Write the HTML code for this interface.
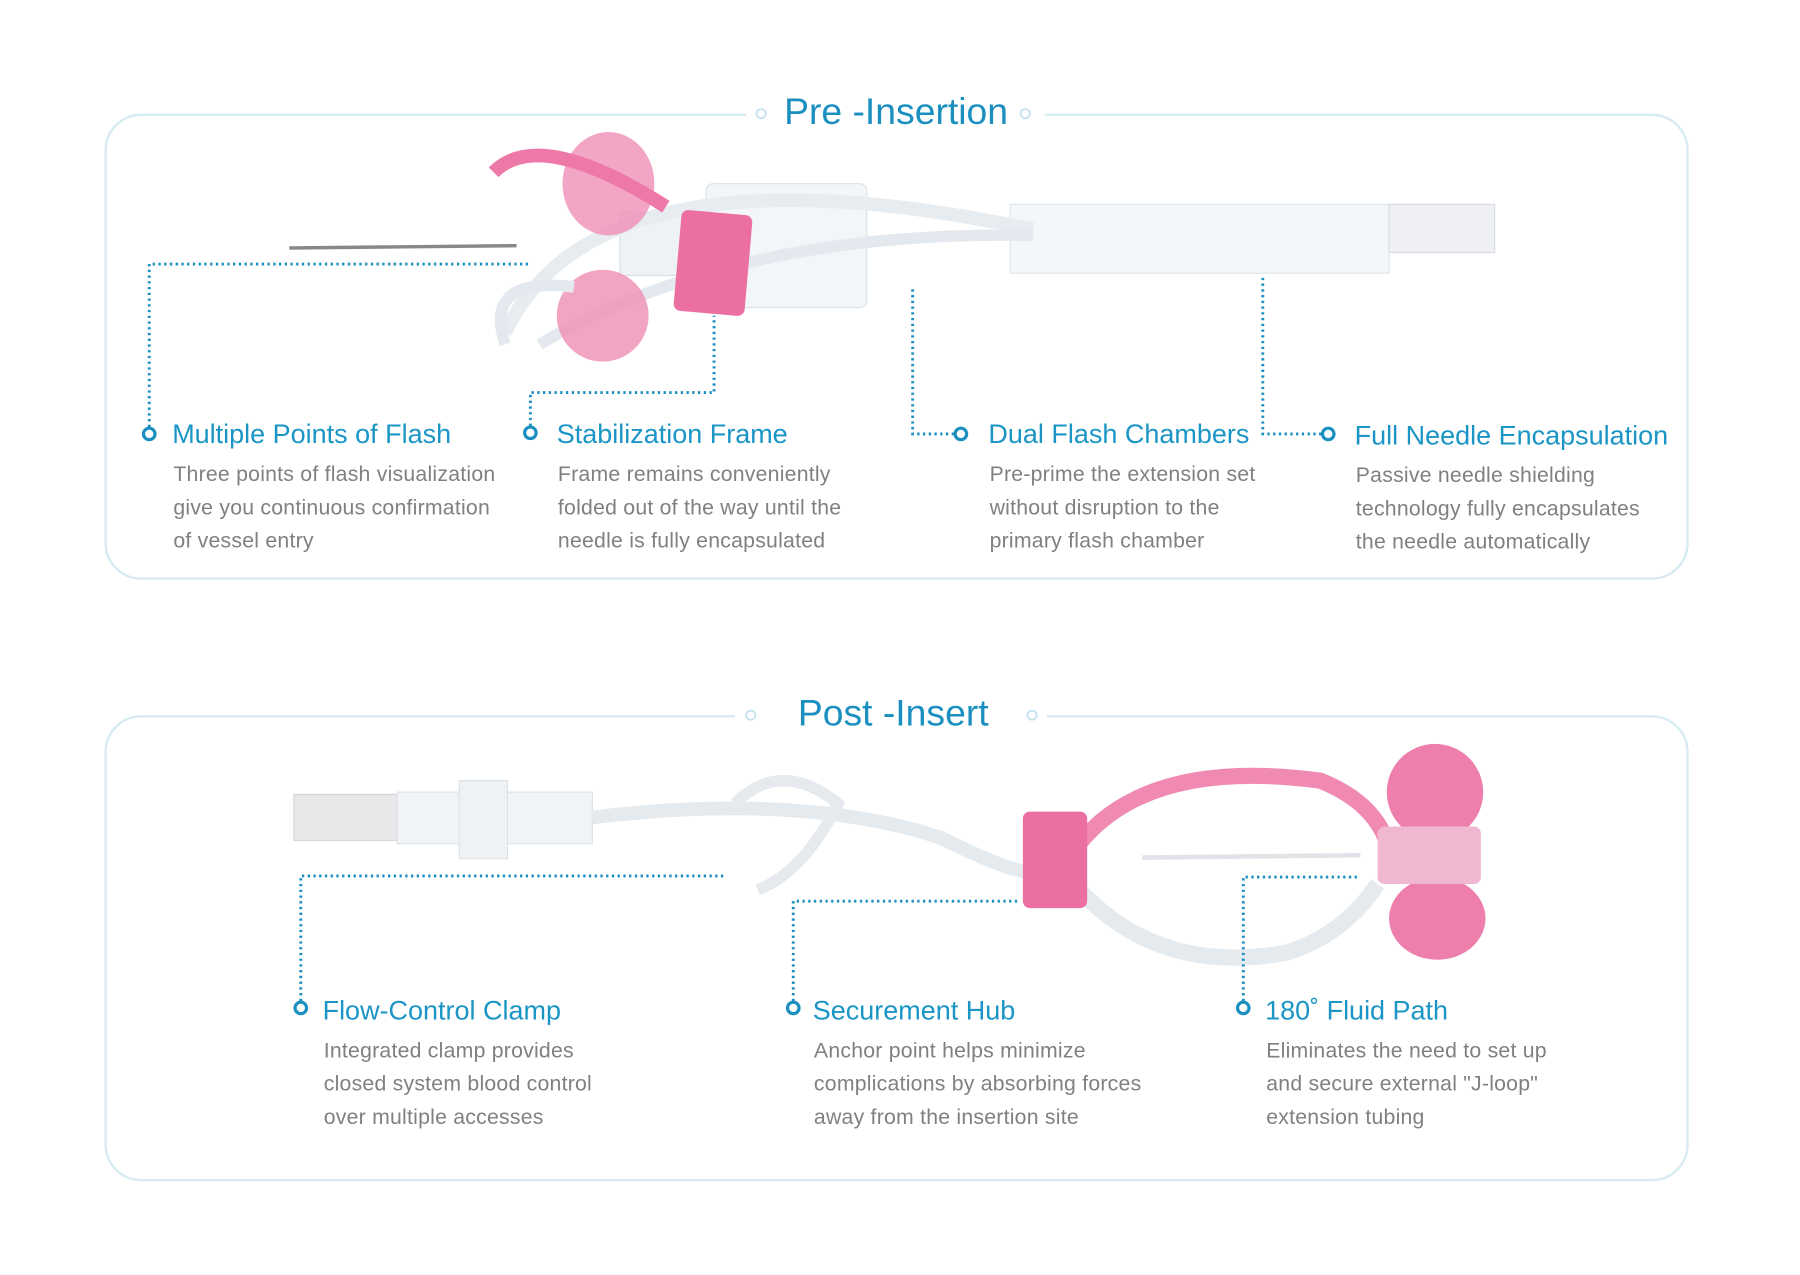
<!DOCTYPE html>
<html><head><meta charset="utf-8"><style>
html,body{margin:0;padding:0;background:#fff;}
body{width:1800px;height:1275px;overflow:hidden;}
#w{position:absolute;left:0;top:0;width:1568px;height:1111px;transform:scale(1.148);transform-origin:0 0;font-family:"Liberation Sans",sans-serif;}
.box{position:absolute;border:2px solid #d6eaf2;border-radius:32px;}
.t{position:absolute;color:#1a8fc0;font-size:32.5px;white-space:nowrap;line-height:40px;}
.h{position:absolute;color:#1a95c5;font-size:23.5px;white-space:nowrap;line-height:30px;}
.d{position:absolute;color:#808080;font-size:18.5px;letter-spacing:0.2px;line-height:29px;white-space:nowrap;}
svg{position:absolute;left:0;top:0;}
</style></head><body><div id="w">
<div class="box" style="left:91px;top:99px;width:1376px;height:402px;"></div>
<div class="box" style="left:91px;top:623px;width:1376px;height:402px;"></div>
<svg width="1568" height="1111">
<rect x="650" y="85" width="260" height="30" fill="#fff"/>
<rect x="640" y="609" width="272" height="30" fill="#fff"/>
<circle cx="663" cy="99" r="4" fill="#fff" stroke="#bfe0ec" stroke-width="1.5"/>
<circle cx="893" cy="99" r="4" fill="#fff" stroke="#bfe0ec" stroke-width="1.5"/>
<circle cx="654" cy="623" r="4" fill="#fff" stroke="#bfe0ec" stroke-width="1.5"/>
<circle cx="899" cy="623" r="4" fill="#fff" stroke="#bfe0ec" stroke-width="1.5"/>
<!-- device 1 -->
<line x1="252" y1="216" x2="450" y2="214" stroke="#888" stroke-width="3"/>
<rect x="880" y="178" width="330" height="60" fill="#f4f7f9" stroke="#dde5ea"/>
<rect x="1210" y="178" width="92" height="42" fill="#eef0f4" stroke="#d8dce2"/>
<rect x="615" y="160" width="140" height="108" rx="6" fill="#f3f6f8" stroke="#d9e2e8"/>
<rect x="540" y="185" width="80" height="55" fill="#eef2f5" stroke="#d5dde3"/>
<path d="M440 290 Q520 120 900 200" stroke="#e6ecf0" stroke-width="12" fill="none"/>
<path d="M470 300 Q640 200 900 205" stroke="#e3e9ee" stroke-width="10" fill="none"/>
<ellipse cx="530" cy="160" rx="40" ry="45" fill="#f08fb6" opacity="0.8"/>
<ellipse cx="525" cy="275" rx="40" ry="40" fill="#ef8db4" opacity="0.8"/>
<path d="M430 150 Q470 110 580 180" stroke="#ee79a8" stroke-width="12" fill="none"/>
<rect x="590" y="185" width="62" height="88" rx="6" fill="#ec6fa2" transform="rotate(5 620 230)"/>
<path d="M440 300 Q420 240 500 250" stroke="#e3e9ee" stroke-width="10" fill="none"/>
<!-- device 2 -->
<rect x="256" y="692" width="90" height="40" fill="#e8e8ea" stroke="#d5d5d8"/>
<rect x="346" y="690" width="170" height="45" fill="#f1f4f6" stroke="#dde3e7"/>
<rect x="400" y="680" width="42" height="68" fill="#eef2f5" stroke="#dbe2e6"/>
<path d="M516 712 Q700 690 820 730 Q880 760 900 760" stroke="#e4eaee" stroke-width="12" fill="none"/>
<path d="M640 700 Q680 660 730 700 Q700 760 660 775" stroke="#e6eaee" stroke-width="10" fill="none"/>
<path d="M940 735 Q1000 660 1150 680 Q1200 700 1210 740" stroke="#f08ab2" stroke-width="14" fill="none"/>
<path d="M940 775 Q1010 850 1120 830 Q1170 815 1200 770" stroke="#e4eaee" stroke-width="14" fill="none"/>
<rect x="891" y="707" width="56" height="84" rx="6" fill="#ec6fa2"/>
<ellipse cx="1250" cy="690" rx="42" ry="42" fill="#ee7fac"/>
<ellipse cx="1252" cy="800" rx="42" ry="36" fill="#ee7fac"/>
<rect x="1200" y="720" width="90" height="50" rx="6" fill="#f0b8d0"/>
<line x1="995" y1="747" x2="1185" y2="745" stroke="#e0e4e8" stroke-width="4"/>
<!-- connectors -->
<g stroke="#1a8fc0" stroke-width="2.5" stroke-dasharray="2 3" fill="none">
<polyline points="130,372 130,230 460,230"/>
<polyline points="462,371 462,342 622,342 622,275"/>
<polyline points="831,378 795,378 795,250"/>
<polyline points="1151,378 1100,378 1100,240"/>
<polyline points="262,872 262,763 633,763"/>
<polyline points="691,872 691,785 887,785"/>
<polyline points="1083,872 1083,764 1185,764"/>
</g>
<g stroke="#1a8fc0" stroke-width="2.8" fill="#fff">
<circle cx="130" cy="378" r="5"/><circle cx="462" cy="377" r="5"/><circle cx="837" cy="378" r="5"/><circle cx="1157" cy="378" r="5"/>
<circle cx="262" cy="878" r="5"/><circle cx="691" cy="878" r="5"/><circle cx="1083" cy="878" r="5"/>
</g>
</svg>
<div class="t" style="left:683px;top:77px;">Pre -Insertion</div>
<div class="t" style="left:695px;top:601px;">Post -Insert</div>

<div class="h" style="left:150px;top:363px;">Multiple Points of Flash</div>
<div class="d" style="left:151px;top:398px;">Three points of flash visualization<br>give you continuous confirmation<br>of vessel entry</div>
<div class="h" style="left:485px;top:363px;">Stabilization Frame</div>
<div class="d" style="left:486px;top:398px;">Frame remains conveniently<br>folded out of the way until the<br>needle is fully encapsulated</div>
<div class="h" style="left:861px;top:363px;">Dual Flash Chambers</div>
<div class="d" style="left:862px;top:398px;">Pre-prime the extension set<br>without disruption to the<br>primary flash chamber</div>
<div class="h" style="left:1180px;top:364px;">Full Needle Encapsulation</div>
<div class="d" style="left:1181px;top:399px;">Passive needle shielding<br>technology fully encapsulates<br>the needle automatically</div>

<div class="h" style="left:281px;top:865px;">Flow-Control Clamp</div>
<div class="d" style="left:282px;top:900px;">Integrated clamp provides<br>closed system blood control<br>over multiple accesses</div>
<div class="h" style="left:708px;top:865px;">Securement Hub</div>
<div class="d" style="left:709px;top:900px;">Anchor point helps minimize<br>complications by absorbing forces<br>away from the insertion site</div>
<div class="h" style="left:1102px;top:865px;">180˚ Fluid Path</div>
<div class="d" style="left:1103px;top:900px;">Eliminates the need to set up<br>and secure external "J-loop"<br>extension tubing</div>
</div></body></html>
